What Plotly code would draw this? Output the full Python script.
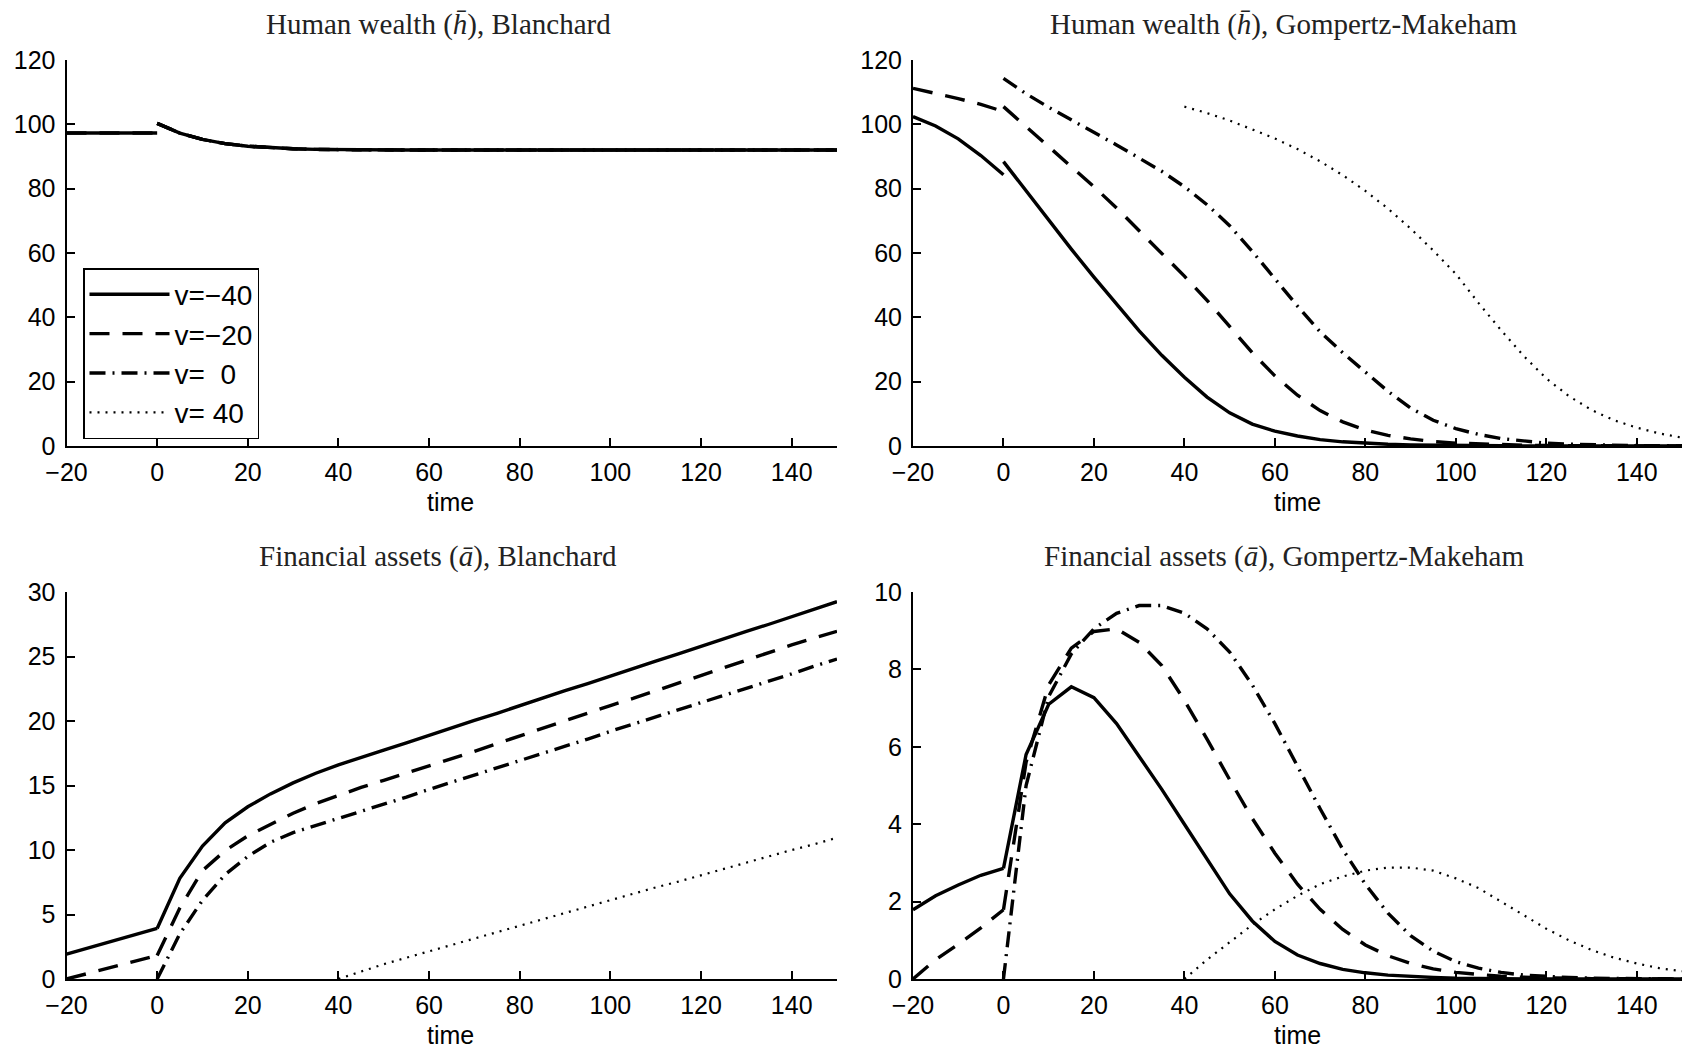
import plotly.graph_objects as go

# ---------------- data ----------------
t_pre = [-20, -15, -10, -5, 0]
t_post = [0, 5, 10, 15, 20, 25, 30, 35, 40, 45, 50, 55, 60, 65, 70, 75, 80, 85, 90, 95,
          100, 105, 110, 115, 120, 125, 130, 135, 140, 145, 150]
cohorts = [-40, -20, 0, 40]
legend_names = ["v=\u221240", "v=\u221220", "v=\u00a0\u00a00", "v=\u00a040"]

# Human wealth, Blanchard (identical for every cohort alive)
hB_pre = [97.3, 97.3, 97.3, 97.3, 97.3]
hB_post = [100.3, 97.3, 95.3, 94.0, 93.2, 92.7, 92.4, 92.2, 92.1, 92.05, 92.0, 92.0, 92.0, 92.0,
           92.0, 92.0, 92.0, 92.0, 92.0, 92.0, 92.0, 92.0, 92.0, 92.0, 92.0, 92.0, 92.0, 92.0,
           92.0, 92.0, 92.0]

# Human wealth, Gompertz-Makeham
hG_pre_m40 = [102.4, 99.5, 95.5, 90.3, 84.3]
hG_post_m40 = [88.4, 79.3, 70.2, 61.2, 52.5, 44.0, 35.8, 28.2, 21.4, 15.2, 10.3, 6.8, 4.6, 3.1,
               2.0, 1.3, 0.85, 0.55, 0.35, 0.22, 0.14, 0.09, 0.06, 0.04, 0.02, 0.01, 0.01, 0.0,
               0.0, 0.0, 0.0]
hG_pre_m20 = [111.2, 109.7, 108.0, 106.2, 104.0]
hG_post_m20 = [105.5, 99.3, 93.2, 87.0, 80.6, 74.0, 67.0, 60.0, 52.8, 45.3, 37.2, 29.0, 21.8,
               15.8, 11.0, 7.5, 5.0, 3.3, 2.2, 1.4, 0.9, 0.6, 0.38, 0.24, 0.15, 0.09, 0.05,
               0.03, 0.02, 0.01, 0.0]
hG_post_0 = [114.3, 109.5, 105.3, 101.5, 97.6, 93.6, 89.5, 85.4, 80.6, 75.0, 68.5, 60.5, 52.0,
             43.5, 35.5, 29.0, 23.0, 17.0, 11.8, 8.0, 5.4, 3.6, 2.3, 1.5, 0.9, 0.55, 0.33,
             0.2, 0.12, 0.07, 0.04]
hG_post_40 = [105.5, 103.5, 101.2, 98.5, 95.6, 92.3, 88.5, 84.2, 79.3, 73.8, 67.6, 60.8, 53.5,
              44.5, 36.0, 28.0, 21.0, 15.5, 11.2, 8.0, 5.7, 3.9, 2.6]

# Financial assets, Blanchard
aB_pre_m40 = [1.92, 2.42, 2.92, 3.42, 3.92]
aB_post_m40 = [3.92, 7.8, 10.3, 12.1, 13.35, 14.35, 15.2, 15.95, 16.6, 17.2, 17.75, 18.3, 18.9,
               19.45, 20.05, 20.6, 21.2, 21.75, 22.35, 22.9, 23.5, 24.05, 24.65, 25.2, 25.8,
               26.35, 26.95, 27.5, 28.1, 28.65, 29.25]
aB_pre_m20 = [0.0, 0.45, 0.9, 1.35, 1.82]
aB_post_m20 = [1.82, 5.5, 8.4, 9.95, 11.1, 12.0, 12.85, 13.6, 14.25, 14.85, 15.4, 15.95, 16.5,
               17.1, 17.65, 18.25, 18.85, 19.4, 20.0, 20.6, 21.2, 21.75, 22.35, 22.95, 23.55,
               24.1, 24.7, 25.3, 25.9, 26.45, 26.95]
aB_post_0 = [0.0, 3.5, 6.1, 8.1, 9.5, 10.6, 11.35, 11.9, 12.4, 12.95, 13.5, 14.1, 14.7, 15.25,
             15.8, 16.4, 16.95, 17.5, 18.05, 18.6, 19.2, 19.75, 20.3, 20.85, 21.4, 22.0, 22.55,
             23.1, 23.65, 24.25, 24.8]
aB_post_40 = [0.0, 0.6, 1.15, 1.65, 2.15, 2.65, 3.15, 3.65, 4.15, 4.65, 5.15, 5.6, 6.1, 6.6,
              7.1, 7.55, 8.05, 8.55, 9.05, 9.5, 10.0, 10.45, 10.95]

# Financial assets, Gompertz-Makeham
aG_pre_m40 = [1.79, 2.15, 2.43, 2.68, 2.86]
aG_post_m40 = [2.86, 5.8, 7.1, 7.55, 7.27, 6.6, 5.75, 4.9, 4.0, 3.1, 2.2, 1.5, 0.97, 0.62,
               0.4, 0.25, 0.16, 0.1, 0.06, 0.04, 0.02, 0.01, 0.01, 0.0, 0.0, 0.0, 0.0, 0.0,
               0.0, 0.0, 0.0]
aG_pre_m20 = [0.0, 0.5, 0.9, 1.32, 1.79]
aG_post_m20 = [1.79, 5.6, 7.6, 8.55, 8.98, 9.05, 8.7, 8.1, 7.2, 6.2, 5.15, 4.15, 3.25, 2.45,
               1.8, 1.28, 0.88, 0.6, 0.4, 0.26, 0.17, 0.11, 0.07, 0.045, 0.03, 0.02, 0.01,
               0.01, 0.0, 0.0, 0.0]
aG_post_0 = [0.0, 5.0, 7.3, 8.4, 9.05, 9.45, 9.65, 9.65, 9.45, 9.05, 8.45, 7.6, 6.6, 5.5, 4.4,
             3.35, 2.45, 1.7, 1.12, 0.72, 0.45, 0.28, 0.17, 0.1, 0.06, 0.04, 0.02, 0.01, 0.01,
             0.0, 0.0]
aG_post_40 = [0.0, 0.5, 0.95, 1.4, 1.8, 2.15, 2.45, 2.65, 2.8, 2.88, 2.88, 2.8, 2.6, 2.35, 2.0,
              1.65, 1.3, 1.0, 0.75, 0.55, 0.4, 0.28, 0.2]

titles = ["Human wealth (<i>h\u0304</i>), Blanchard",
          "Human wealth (<i>h\u0304</i>), Gompertz-Makeham",
          "Financial assets (<i>\u0101</i>), Blanchard",
          "Financial assets (<i>\u0101</i>), Gompertz-Makeham"]
x_ticks = [-20, 0, 20, 40, 60, 80, 100, 120, 140]

# ---------------- styling ----------------
W, H = 1682, 1050
SANS = "Liberation Sans, Arial, sans-serif"
SERIF = "Liberation Serif, Times New Roman, serif"
styles = [dict(dash="solid", width=3.4),
          dict(dash="20px,13px", width=3.4),
          dict(dash="16px,7px,2px,7px", width=3.4),
          dict(dash="2px,6px", width=2.2)]


def series(pre, post, birth):
    """Join a pre-shock and post-shock path with a break at t = 0."""
    xs, ys = [], []
    if pre is not None:
        for t, v in zip(t_pre, pre):
            if t >= birth:
                xs.append(t)
                ys.append(v)
        xs.append(None)
        ys.append(None)
    post_t = [t for t in t_post if t >= birth]
    xs += post_t
    ys += list(post)[-len(post_t):]
    return xs, ys


panels = [
    ("x", "y", [(hB_pre, hB_post), (hB_pre, hB_post), (None, hB_post), (None, hB_post[-23:])]),
    ("x2", "y2", [(hG_pre_m40, hG_post_m40), (hG_pre_m20, hG_post_m20), (None, hG_post_0),
                  (None, hG_post_40)]),
    ("x3", "y3", [(aB_pre_m40, aB_post_m40), (aB_pre_m20, aB_post_m20), (None, aB_post_0),
                  (None, aB_post_40)]),
    ("x4", "y4", [(aG_pre_m40, aG_post_m40), (aG_pre_m20, aG_post_m20), (None, aG_post_0),
                  (None, aG_post_40)]),
]

fig = go.Figure()
for pi, (xa, ya, data) in enumerate(panels):
    for ci, (pre, post) in enumerate(data):
        birth = max(cohorts[ci], -20)
        xs, ys = series(pre if cohorts[ci] < 0 else None, post, birth)
        fig.add_trace(go.Scatter(
            x=xs, y=ys, mode="lines", xaxis=xa, yaxis=ya,
            line=dict(color="black", **styles[ci]),
            name=legend_names[ci], showlegend=(pi == 0),
            connectgaps=False, hoverinfo="skip"))

axis_common = dict(showline=True, linecolor="black", linewidth=2, ticks="inside", ticklen=8,
                   tickwidth=2, tickcolor="black", showgrid=False, zeroline=False,
                   automargin=False,
                   tickfont=dict(family=SANS, size=25, color="black"))

xL = [66.5 / W, 837 / W]
xR = [913 / W, 1.0]
yT = [1 - 446 / H, 1 - 60 / H]
yB = [1 - 979 / H, 1 - 592 / H]

for name, dom, anchor in [("xaxis", xL, "y"), ("xaxis2", xR, "y2"),
                          ("xaxis3", xL, "y3"), ("xaxis4", xR, "y4")]:
    fig.layout[name] = dict(axis_common, domain=dom, anchor=anchor, range=[-20, 150],
                            tickmode="array", tickvals=x_ticks, ticklabelstandoff=3)
for name, dom, anchor, rng, dt in [("yaxis", yT, "x", [0, 120], 20),
                                   ("yaxis2", yT, "x2", [0, 120], 20),
                                   ("yaxis3", yB, "x3", [0, 30], 5),
                                   ("yaxis4", yB, "x4", [0, 10], 2)]:
    fig.layout[name] = dict(axis_common, domain=dom, anchor=anchor, range=rng,
                            tick0=0, dtick=dt, ticklabelstandoff=4)

annotations = []
title_pos = [(438, 24), (1284, 24), (438, 556), (1284, 556)]
for txt, (cx, cy) in zip(titles, title_pos):
    annotations.append(dict(text=txt, x=cx / W, y=1 - cy / H, xref="paper", yref="paper",
                            xanchor="center", yanchor="middle", showarrow=False,
                            font=dict(family=SERIF, size=29, color="#222")))
for cx, cy in [(450.5, 502), (1297, 502), (450.5, 1035), (1297, 1035)]:
    annotations.append(dict(text="time", x=cx / W, y=1 - cy / H, xref="paper", yref="paper",
                            xanchor="center", yanchor="middle", showarrow=False,
                            font=dict(family=SANS, size=25, color="black")))

fig.update_layout(
    width=W, height=H, margin=dict(l=0, r=0, t=0, b=0, autoexpand=False),
    paper_bgcolor="white", plot_bgcolor="white",
    annotations=annotations,
    legend=dict(x=83 / W, y=1 - 268 / H, xanchor="left", yanchor="top",
                bordercolor="black", borderwidth=1.5, bgcolor="white",
                font=dict(family=SANS, size=28, color="black"),
                itemwidth=80, traceorder="normal"),
)

fig.write_html("out.html", config={"displayModeBar": False},
               post_script="document.body.style.margin='0';document.body.style.overflow='hidden';")
